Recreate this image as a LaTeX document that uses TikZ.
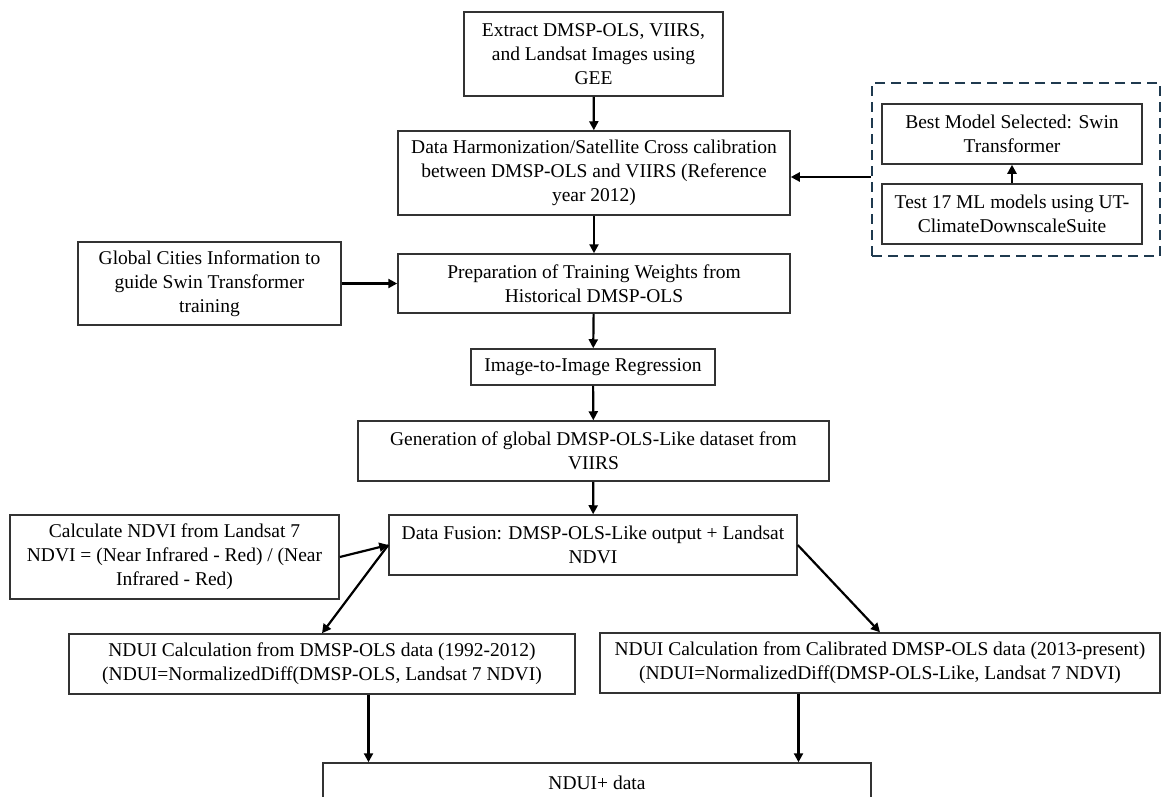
\documentclass[tikz,border=0pt]{standalone}
\usepackage{fontspec}
\setmainfont{Liberation Serif}
\usetikzlibrary{positioning,arrows.meta,calc}
\definecolor{framenavy}{HTML}{1F3A4F}

\tikzset{
  flowbox/.style 2 args={draw=black!80,line width=1.5pt,align=center,inner sep=2pt,
    minimum width=#1pt,minimum height=#2pt,font=\fontsize{19.5}{24}\selectfont},
  flow/.style={->,line width=2.2pt},
}

\begin{document}
\begin{tikzpicture}[x=1pt,y=-1pt,>={Triangle[length=9pt,width=9pt]}]
\useasboundingbox (0,0) rectangle (1163,796);
% main column
\node[flowbox={259}{84}] (extract) at (593.5,54) {Extract DMSP-OLS, VIIRS,\\and Landsat Images using\\GEE};
\node[flowbox={392}{84}] (harmon) at (594,173) {Data Harmonization/Satellite Cross calibration\\between DMSP-OLS and VIIRS (Reference\\year 2012)};
\node[flowbox={392}{59}] (prep) at (594,283.5) {Preparation of Training Weights from\\Historical DMSP-OLS};
\node[flowbox={244}{36}] (img) at (593,367) {Image-to-Image Regression};
\node[flowbox={471}{60}] (gen) at (593.5,451) {Generation of global DMSP-OLS-Like dataset from\\VIIRS};
\node[flowbox={408}{60}] (fusion) at (593,545) {Data Fusion: DMSP-OLS-Like output + Landsat\\NDVI};
% side inputs
\node[flowbox={263}{83}] (cities) at (209.5,283.5) {Global Cities Information to\\guide Swin Transformer\\training};
\node[flowbox={329}{84}] (ndvi) at (174.5,557) {Calculate NDVI from Landsat 7\\NDVI = (Near Infrared - Red) / (Near\\Infrared - Red)};
% model selection
\node[draw=framenavy,line width=2.5pt,dash pattern=on 10pt off 6pt,minimum width=288pt,minimum height=173pt] (group) at (1016,169.5) {};
\node[flowbox={260}{60}] (best) at (1012,134) {Best Model Selected: Swin\\Transformer};
\node[flowbox={260}{60}] (test) at (1012,214) {Test 17 ML models using UT-\\ClimateDownscaleSuite};
% outputs
\node[flowbox={506}{60}] (nduiL) at (322,664) {NDUI Calculation from DMSP-OLS data (1992-2012)\\(NDUI=NormalizedDiff(DMSP-OLS, Landsat 7 NDVI)};
\node[flowbox={560}{60}] (nduiR) at (880,663) {NDUI Calculation from Calibrated DMSP-OLS data (2013-present)\\(NDUI=NormalizedDiff(DMSP-OLS-Like, Landsat 7 NDVI)};
\node[flowbox={548}{40}] (nduiplus) at (597,783) {NDUI+ data};

\draw[flow] (extract) -- (harmon);
\draw[flow] (harmon) -- (prep);
\draw[flow] (prep) -- (img);
\draw[flow] (img) -- (gen);
\draw[flow] (gen) -- (fusion);
\draw[flow] (cities) -- (prep);
\draw[flow] (test) -- (best);
\draw[flow] (group.west |- 0,177) -- (harmon.east |- 0,177);
\draw[flow] (ndvi.east) -- (fusion.west);
\draw[flow] (fusion.west) -- (nduiL.north);
\draw[flow] (fusion.east) -- (nduiR.north);
\draw[flow] (nduiL.south -| 368.5,0) -- (nduiplus.north -| 368.5,0);
\draw[flow] (nduiR.south -| 798.5,0) -- (nduiplus.north -| 798.5,0);
\end{tikzpicture}
\end{document}
